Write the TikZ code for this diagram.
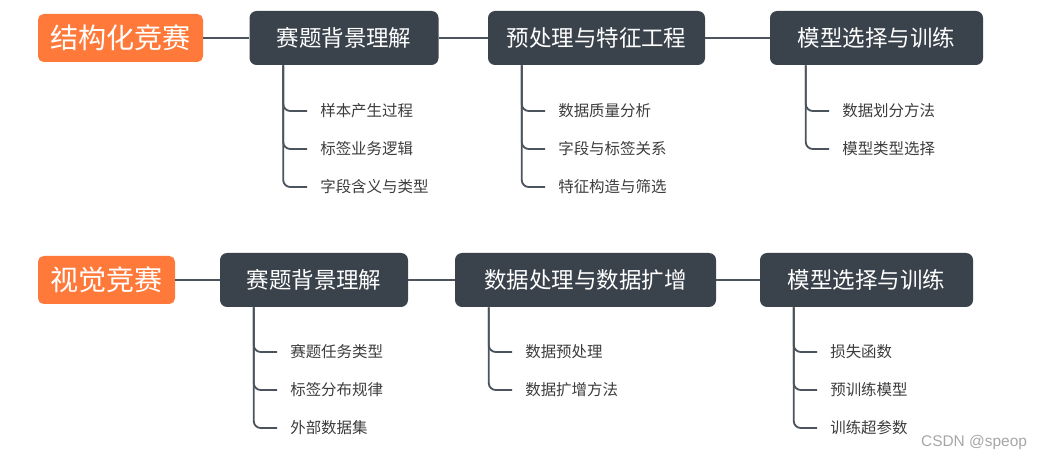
\documentclass[tikz,border=0pt]{standalone}
\usepackage{fontspec}
\newfontfamily\cjk{Noto Sans CJK SC}
\newfontfamily\wmfont{Liberation Sans}
\usetikzlibrary{positioning}
\definecolor{rootorange}{RGB}{255,122,58}
\definecolor{boxdark}{RGB}{58,66,75}
\definecolor{linkgray}{RGB}{75,83,92}
\definecolor{leafgray}{RGB}{60,60,60}

\begin{document}
\begin{tikzpicture}[x=1cm,y=1cm,font=\cjk,
  root/.style={fill=rootorange,text=white,rounded corners=4pt,
    minimum height=1.2cm,inner sep=0pt,font=\cjk\fontsize{20}{24}\selectfont},
  stage/.style={fill=boxdark,text=white,rounded corners=5pt,
    minimum height=1.35cm,inner sep=0pt,font=\cjk\fontsize{16}{19}\selectfont},
  leaf/.style={anchor=west,inner xsep=.325cm,inner ysep=2pt,text=leafgray,
    font=\cjk\fontsize{11}{13}\selectfont},
  link/.style={draw=linkgray,line width=2pt},
  branch/.style={draw=linkgray,line width=1.3pt,rounded corners=5pt}]
\useasboundingbox (0,0) rectangle (25.925,11.575);
% --- structured competitions
\node[root,minimum width=4.125cm] (s0) at (3.0125,10.625) {结构化竞赛};
\node[stage,minimum width=4.725cm] (s1) at (8.6,10.625) {赛题背景理解};
\node[stage,minimum width=5.425cm] (s2) at (14.9125,10.625) {预处理与特征工程};
\node[stage,minimum width=5.325cm] (s3) at (21.9125,10.625) {模型选择与训练};
\draw[link] (s0)--(s1);
\draw[link] (s1)--(s2);
\draw[link] (s2)--(s3);
\foreach \t [count=\i] in {样本产生过程,标签业务逻辑,字段含义与类型}{
  \node[leaf] (sa\i) at (7.675,9.75-.95*\i) {\t};
  \draw[branch] ([xshift=.85cm]s1.south west) |- (sa\i.west);
}
\foreach \t [count=\i] in {数据质量分析,字段与标签关系,特征构造与筛选}{
  \node[leaf] (sb\i) at (13.625,9.75-.95*\i) {\t};
  \draw[branch] ([xshift=.85cm]s2.south west) |- (sb\i.west);
}
\foreach \t [count=\i] in {数据划分方法,模型类型选择}{
  \node[leaf] (sc\i) at (20.725,9.75-.95*\i) {\t};
  \draw[branch] ([xshift=.9cm]s3.south west) |- (sc\i.west);
}
% --- vision competitions
\node[root,minimum width=3.425cm] (v0) at (2.6625,4.575) {视觉竞赛};
\node[stage,minimum width=4.7cm] (v1) at (7.85,4.575) {赛题背景理解};
\node[stage,minimum width=6.525cm] (v2) at (14.6375,4.575) {数据处理与数据扩增};
\node[stage,minimum width=5.325cm] (v3) at (21.6625,4.575) {模型选择与训练};
\draw[link] (v0)--(v1);
\draw[link] (v1)--(v2);
\draw[link] (v2)--(v3);
\foreach \t [count=\i] in {赛题任务类型,标签分布规律,外部数据集}{
  \node[leaf] (va\i) at (6.925,3.725-.95*\i) {\t};
  \draw[branch] ([xshift=.85cm]v1.south west) |- (va\i.west);
}
\foreach \t [count=\i] in {数据预处理,数据扩增方法}{
  \node[leaf] (vb\i) at (12.8,3.725-.95*\i) {\t};
  \draw[branch] ([xshift=.85cm]v2.south west) |- (vb\i.west);
}
\foreach \t [count=\i] in {损失函数,预训练模型,训练超参数}{
  \node[leaf] (vc\i) at (20.425,3.725-.95*\i) {\t};
  \draw[branch] ([xshift=.85cm]v3.south west) |- (vc\i.west);
}
\node[anchor=east,text=gray!70,font=\wmfont\fontsize{11}{13}\selectfont]
  (mark) at (25.8,0.5) {CSDN @speop};
\end{tikzpicture}
\end{document}
